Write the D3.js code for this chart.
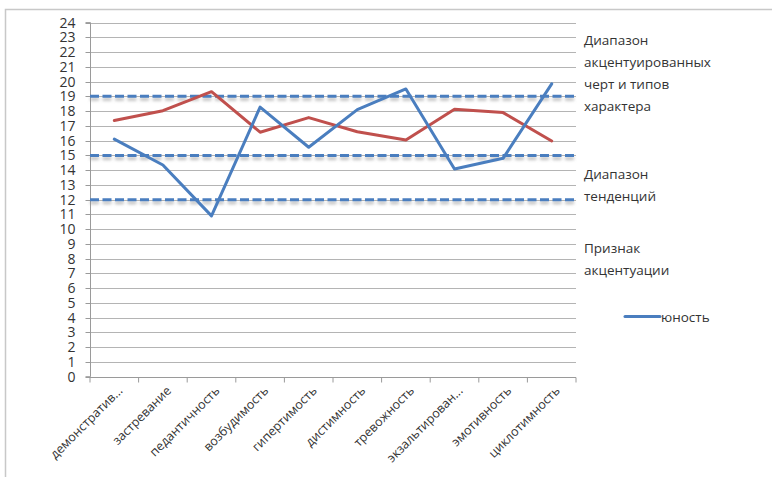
<!DOCTYPE html>
<html><head><meta charset="utf-8">
<script src="https://cdn.jsdelivr.net/npm/d3@7"></script>
<style>body{margin:0;background:#fff}svg{display:block}</style>
</head><body>
<svg id="c" width="772" height="477"></svg>
<script>
const categories = ["демонстратив...","застревание","педантичность","возбудимость","гипертимость","дистимность","тревожность","экзальтирован...","эмотивность","циклотимность"];
const blueValues = [16.1,14.35,10.9,18.27,15.55,18.1,19.5,14.08,14.8,19.85];
const redValues = [17.36,18.03,19.32,16.57,17.56,16.6,16.05,18.13,17.9,15.98];
const thresholds = [19,15,12];
const yTicks = d3.range(0,25);
const seriesName = "юность";
const annotations = [
  {lines:["Диапазон","акцентуированных","черт и типов","характера"], y0:40},
  {lines:["Диапазон","тенденций"], y0:174},
  {lines:["Признак","акцентуации"], y0:248}
];

(function(){
const svg = d3.select("#c");
const font = "'Open Sans', 'Noto Sans', sans-serif";
const pl = 90, pr = 576, pt = 22.6, pb = 376.7;

// frame
svg.append("path").attr("d","M5.5,477 V9.5 H772").attr("fill","none").attr("stroke","#c8c8c8").attr("stroke-width",1.5);

const x = d3.scaleBand().domain(categories).range([pl,pr]);
const y = d3.scaleLinear().domain([0,24]).range([pb,pt]);

const defs = svg.append("defs");
defs.append("filter").attr("id","bl").attr("filterUnits","userSpaceOnUse")
  .attr("x",0).attr("y",0).attr("width",772).attr("height",477)
  .append("feGaussianBlur").attr("stdDeviation",1.5);

// gridlines
svg.append("g").selectAll("line").data(yTicks).join("line")
  .attr("x1",pl).attr("x2",pr).attr("y1",d=>Math.round(y(d))+0.5).attr("y2",d=>Math.round(y(d))+0.5)
  .attr("stroke","#b4b4b4").attr("stroke-width",1);

// y axis
const ya = svg.append("g").attr("transform",`translate(${pl+0.5},0)`)
  .call(d3.axisLeft(y).tickValues(yTicks).tickSize(5).tickPadding(10).tickFormat(d3.format("d")));
ya.select(".domain").attr("stroke","#9a9a9a").attr("d",`M-5,${y(24)}H0V${pb}H-5`);
ya.selectAll(".tick line").attr("stroke","#9a9a9a");
ya.selectAll(".tick text").attr("font-family",font).attr("font-size",14).attr("fill","#333");
ya.selectAll(".tick").attr("transform",d=>`translate(0,${Math.round(y(d))+0.5})`);

// x axis
const xa = svg.append("g").attr("transform",`translate(0,${Math.round(pb)+0.5})`);
xa.append("line").attr("x1",pl).attr("x2",pr).attr("stroke","#9a9a9a");
const bounds = d3.range(categories.length+1).map(i=>pl + i*x.bandwidth());
xa.selectAll(".tk").data(bounds).join("line").attr("class","tk")
  .attr("x1",d=>d).attr("x2",d=>d).attr("y1",0).attr("y2",5).attr("stroke","#9a9a9a");
xa.selectAll("text").data(categories).join("text")
  .attr("transform",d=>`translate(${x(d)+x.bandwidth()/2+9},${14}) rotate(-45)`)
  .attr("text-anchor","end").attr("font-family",font).attr("font-size",12.5).attr("fill","#333")
  .text(d=>d);

// threshold dashed lines with soft shadow
const tg = svg.append("g");
tg.selectAll(".shd").data(thresholds).join("line").attr("class","shd")
  .attr("x1",pl).attr("x2",pr).attr("y1",d=>y(d)+3).attr("y2",d=>y(d)+3)
  .attr("stroke","#8a8a8a").attr("stroke-opacity",0.55).attr("stroke-width",3).attr("stroke-dasharray","9,3.5")
  .attr("filter","url(#bl)");
tg.selectAll(".th").data(thresholds).join("line").attr("class","th")
  .attr("x1",pl).attr("x2",pr).attr("y1",d=>y(d)).attr("y2",d=>y(d))
  .attr("stroke","#4a7ebf").attr("stroke-width",3).attr("stroke-dasharray","9,3.5");

const line = d3.line().x((d,i)=>x(categories[i])+x.bandwidth()/2).y(d=>y(d));
svg.append("path").datum(redValues).attr("d",line).attr("fill","none")
  .attr("stroke","#c0504d").attr("stroke-width",3).attr("stroke-linejoin","round").attr("stroke-linecap","round");
svg.append("path").datum(blueValues).attr("d",line).attr("fill","none")
  .attr("stroke","#4a7ebf").attr("stroke-width",3).attr("stroke-linejoin","round").attr("stroke-linecap","round");

// annotations
const ag = svg.append("g").attr("font-family",font).attr("font-size",13.5).attr("fill","#333");
annotations.forEach(a=>{
  a.lines.forEach((t,i)=>{
    ag.append("text").attr("x",584).attr("y",a.y0+i*22+5).text(t);
  });
});

// legend
svg.append("line").attr("x1",625).attr("x2",660).attr("y1",316.5).attr("y2",316.5)
  .attr("stroke","#4a7ebf").attr("stroke-width",3).attr("stroke-linecap","round");
svg.append("text").attr("x",661).attr("y",321.5).attr("font-family",font).attr("font-size",13.5).attr("fill","#333").text(seriesName);
})();
</script>
</body></html>
